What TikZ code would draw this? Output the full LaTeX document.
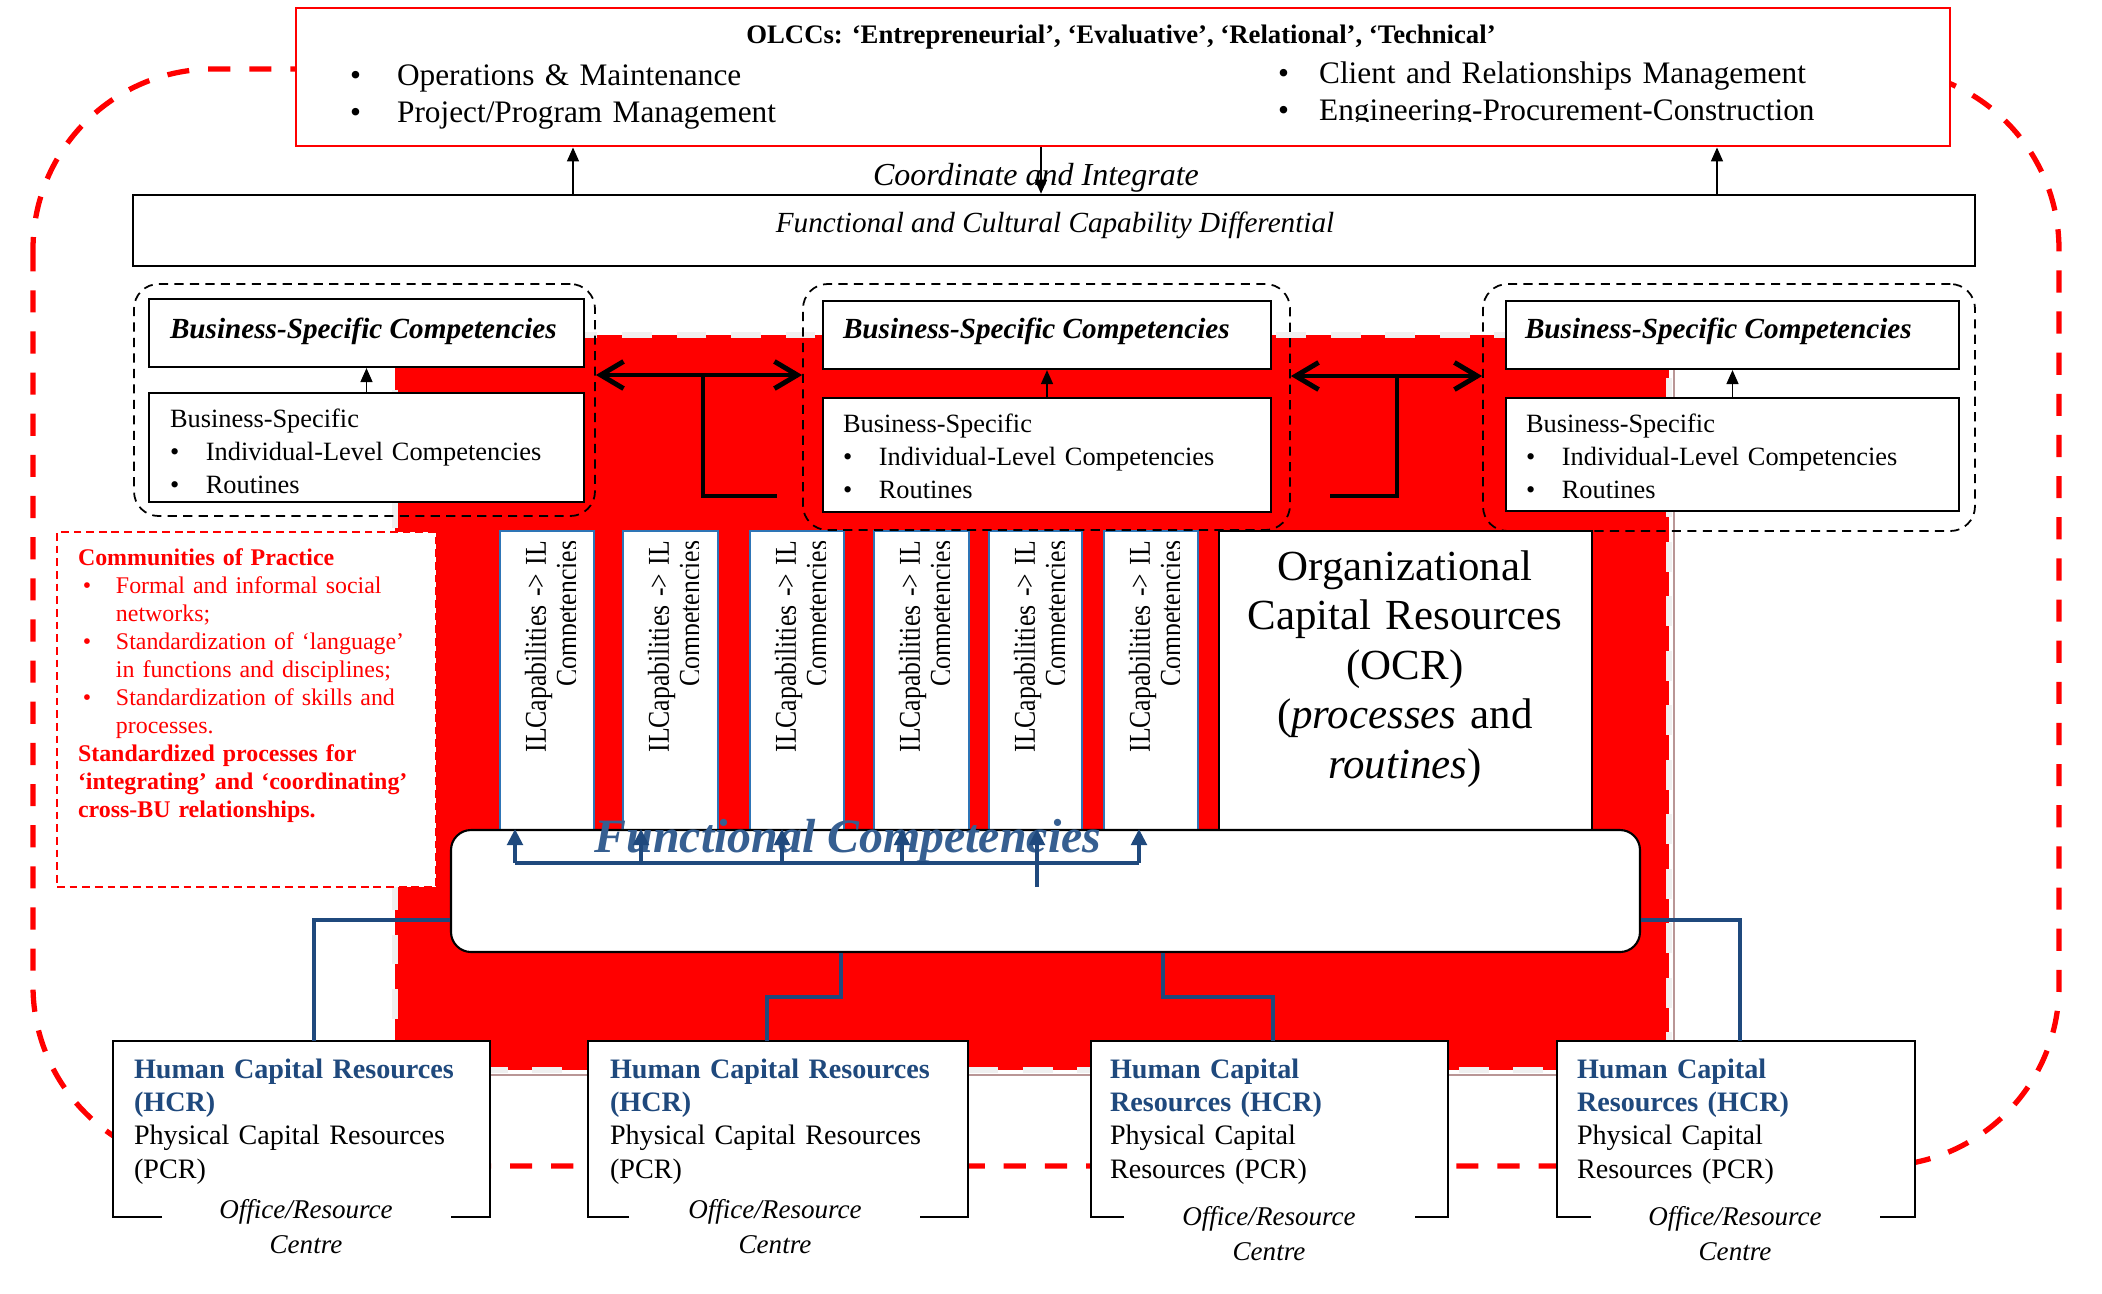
\documentclass[tikz,border=0pt]{standalone}
\usepackage{fontspec}
\setmainfont{Liberation Serif}
\usetikzlibrary{arrows.meta,calc,fit}
\definecolor{hblue}{RGB}{31,73,125}
\definecolor{fblue}{RGB}{54,95,145}
\definecolor{lblue}{RGB}{46,117,182}
\definecolor{rosy}{RGB}{185,150,150}
\definecolor{pale}{RGB}{240,240,240}
\newcommand\fsz[2]{\fontsize{#1pt}{#2pt}\selectfont}
\begin{document}
\begin{tikzpicture}[x=0.01cm,y=-0.01cm,
  txt/.style={inner sep=0pt,outer sep=0pt},
  wbox/.style={draw=black,line width=0.6pt,fill=white,inner sep=0pt},
  ilbox/.style={draw=lblue,line width=0.6pt,fill=white,inner sep=0pt},
  ctbox/.style={draw=black,line width=0.5pt,dash pattern=on 2.6pt off 1.8pt,rounded corners=7pt,inner sep=0pt},
  arr/.style={line width=0.5pt,-{Triangle[length=4pt,width=3.4pt]}},
  thickarr/.style={line width=1.4pt,{Straight Barb[length=6.5pt,width=7.7pt]}-{Straight Barb[length=6.5pt,width=7.7pt]}},
  tbar/.style={line width=1.4pt},
  bluel/.style={draw=hblue,line width=1.1pt},
  bluearr/.style={draw=hblue,fill=hblue,line width=1.1pt,-{Triangle[length=4.6pt,width=4.4pt]}},
  bigdash/.style={red,line width=1.5pt,dash pattern=on 6.3pt off 5.4pt,rounded corners=1.8cm},
  copbox/.style={draw=red,line width=0.6pt,dash pattern=on 2.2pt off 1.4pt,fill=white,inner sep=0pt},
  hcrout/.style={line width=0.7pt},
]
\useasboundingbox (0,0) rectangle (2102,1293);

% big red dashed rounded frame
\draw[bigdash] (33,69) rectangle (2059,1166);

% red field
\fill[red] (395,335) rectangle (1669,1070);
\draw[pale,line width=1.6pt,dash pattern=on 8.5pt off 7pt] (395,335) rectangle (1669,1070);
\draw[rosy,line width=0.7pt] (396,1075) -- (1674,1075) -- (1674,336);

% top box
\node[wbox,draw=red,line width=0.8pt,fit={(296,8) (1950,146)}] (top) {};
\node[txt,anchor=base,font=\bfseries\fsz{7.6}{9}] (olcct) at (1121,43) {OLCCs: ‘Entrepreneurial’, ‘Evaluative’, ‘Relational’, ‘Technical’};
\node[txt,anchor=base west,text width=6cm,align=left,font=\fsz{8.9}{10.8}] (olccl) at (350,85)
  {\makebox[13.4pt][l]{\textbullet}Operations \& Maintenance\\\makebox[13.4pt][l]{\textbullet}Project/Program Management};
\begin{scope}
\clip (1260,50) rectangle (1945,121);
\node[txt,anchor=base west,text width=7cm,align=left,font=\fsz{8.9}{10.8}] (olccr) at (1278,83)
  {\makebox[11.7pt][l]{\textbullet}Client and Relationships Management\\\makebox[11.7pt][l]{\textbullet}Engineering-Procurement-Construction};
\end{scope}

% differential box
\node[wbox,line width=0.7pt,fit={(133,195) (1975,266)}] (diff) {};
\node[txt,anchor=base,font=\itshape\fsz{8.3}{10}] (difft) at (1055,232) {Functional and Cultural Capability Differential};
\node[txt,anchor=base,font=\itshape\fsz{9.1}{11}] (coord) at (1036,185) {Coordinate and Integrate};
\coordinate (a1) at (573,0);
\coordinate (a2) at (1041,0);
\coordinate (a3) at (1717,0);
\draw[arr] (diff.north -| a1) -- (top.south -| a1);
\draw[arr] (top.south -| a2) -- (diff.north -| a2);
\draw[arr] (diff.north -| a3) -- (top.south -| a3);

% communities of practice
\node[copbox,fit={(57,532) (436,887)}] (cop) {};
\node[txt,anchor=base west,text width=3.6cm,align=left,text=red,font=\fsz{6.8}{7.97}] (copt) at (78,565)
  {\textbf{Communities of Practice}\\
   \hspace*{1.4pt}\makebox[9.4pt][l]{\textbullet}Formal and informal social\\
   \hspace*{10.8pt}networks;\\
   \hspace*{1.4pt}\makebox[9.4pt][l]{\textbullet}Standardization of ‘language’\\
   \hspace*{10.8pt}in functions and disciplines;\\
   \hspace*{1.4pt}\makebox[9.4pt][l]{\textbullet}Standardization of skills and\\
   \hspace*{10.8pt}processes.\\
   \textbf{Standardized processes for}\\
   \textbf{‘integrating’ and ‘coordinating’}\\
   \textbf{cross-BU relationships.}};

% IL capability boxes
\foreach \i/\xa/\xb in {1/500/594,2/623/718,3/750/844,4/874/969,5/989/1082,6/1104/1198}{
  \node[ilbox,fit={(\xa,531) (\xb,830)}] (il\i) {};
  \begin{scope}
    \clip (\xa,531) rectangle (\xa+75,830);
    \node[txt,rotate=90,xscale=0.85,anchor=north east,text width=72pt,align=right,font=\fsz{8.6}{8.8}] (ilt\i) at (\xa+25,541)
      {ILCapabilities -> IL\\Competencies};
  \end{scope}
}

% OCR box
\node[wbox,fit={(1219,531) (1592,830)}] (ocr) {};
\node[txt,anchor=base,text width=3.6cm,align=center,font=\fsz{12.2}{14.1}] (ocrt) at (1405,580)
  {Organizational\\Capital Resources\\(OCR)\\(\textit{processes} and\\\textit{routines})};

% business-specific containers
\node[wbox,fit={(149,299) (584,367)}] (t1) {};
\node[wbox,fit={(823,301) (1271,369)}] (t2) {};
\node[wbox,fit={(1506,301) (1959,369)}] (t3) {};
\node[wbox,fit={(149,393) (584,502)}] (c1) {};
\node[wbox,fit={(823,398) (1271,512)}] (c2) {};
\node[wbox,fit={(1506,398) (1959,511)}] (c3) {};
\node[ctbox,fit={(134,284) (595,516)}] (ct1) {};
\node[ctbox,fit={(803,284) (1290,530)}] (ct2) {};
\node[ctbox,fit={(1483,284) (1975,531)}] (ct3) {};
\foreach \n/\x in {1/170,2/843,3/1525}{
  \node[txt,anchor=base west,font=\bfseries\itshape\fsz{8.3}{10}] (tt\n) at (\x,338) {Business-Specific Competencies};
  \draw[arr] (c\n.north) -- (t\n.south);
}
\foreach \n/\x/\y in {1/170/427,2/843/432,3/1526/432}{
  \node[txt,anchor=base west,text width=4cm,align=left,font=\fsz{7.5}{9.4}] (ct\n t) at (\x,\y)
    {Business-Specific\\\makebox[10.2pt][l]{\textbullet}Individual-Level Competencies\\\makebox[10.2pt][l]{\textbullet}Routines};
}

% thick black links
\coordinate (ty1) at (0,375);
\coordinate (ty2) at (0,376);
\draw[thickarr] (ct1.east |- ty1) -- (ct2.west |- ty1);
\draw[thickarr] (ct2.east |- ty2) -- (ct3.west |- ty2);
\draw[tbar] (703,375) -- (703,496) -- (777,496);
\draw[tbar] (1397,376) -- (1397,496) -- (1330,496);

% functional competencies
\node[wbox,rounded corners=5.7pt,fit={(451,830) (1640,952)}] (fun) {};
\node[txt,anchor=base,text=fblue,font=\bfseries\itshape\fsz{13.6}{16}] (funt) at (848,852) {Functional Competencies};
\foreach \i/\x in {1/515,2/641,3/782,4/902,5/1037,6/1139}{
  \coordinate (fb\i) at (\x,863);
  \draw[bluearr] (fb\i) -- (fb\i |- fun.north);
}
\draw[bluel] (fb1) -- (fb6);
\coordinate (fsrc) at (1037,887);
\draw[bluel] (fsrc) -- (fb5);

% HCR boxes
\node[txt,fill=white,fit={(113,1041) (490,1217)}] (h1) {};
\node[txt,fill=white,fit={(588,1041) (968,1217)}] (h2) {};
\node[txt,fill=white,fit={(1091,1041) (1448,1217)}] (h3) {};
\node[txt,fill=white,fit={(1557,1041) (1915,1217)}] (h4) {};
\draw[hcrout] (162,1217) -- (113,1217) -- (113,1041) -- (490,1041) -- (490,1217) -- (451,1217);
\draw[hcrout] (629,1217) -- (588,1217) -- (588,1041) -- (968,1041) -- (968,1217) -- (920,1217);
\draw[hcrout] (1124,1217) -- (1091,1217) -- (1091,1041) -- (1448,1041) -- (1448,1217) -- (1415,1217);
\draw[hcrout] (1591,1217) -- (1557,1217) -- (1557,1041) -- (1915,1041) -- (1915,1217) -- (1880,1217);

\node[txt,anchor=base west,text width=3.6cm,align=left,font=\fsz{8}{9.5}] (h1t) at (134,1078)
  {{\color{hblue}\bfseries Human Capital Resources\\(HCR)}\\Physical Capital Resources\\(PCR)};
\node[txt,anchor=base west,text width=3.6cm,align=left,font=\fsz{8}{9.5}] (h2t) at (610,1078)
  {{\color{hblue}\bfseries Human Capital Resources\\(HCR)}\\Physical Capital Resources\\(PCR)};
\node[txt,anchor=base west,text width=3.6cm,align=left,font=\fsz{8}{9.5}] (h3t) at (1110,1078)
  {{\color{hblue}\bfseries Human Capital\\Resources (HCR)}\\Physical Capital\\Resources (PCR)};
\node[txt,anchor=base west,text width=3.6cm,align=left,font=\fsz{8}{9.5}] (h4t) at (1577,1078)
  {{\color{hblue}\bfseries Human Capital\\Resources (HCR)}\\Physical Capital\\Resources (PCR)};
\node[txt,anchor=base,text width=3cm,align=center,font=\itshape\fsz{7.7}{10}] (o1) at (306,1218) {Office/Resource\\Centre};
\node[txt,anchor=base,text width=3cm,align=center,font=\itshape\fsz{7.7}{10}] (o2) at (775,1218) {Office/Resource\\Centre};
\node[txt,anchor=base,text width=3cm,align=center,font=\itshape\fsz{7.7}{10}] (o3) at (1269,1225) {Office/Resource\\Centre};
\node[txt,anchor=base,text width=3cm,align=center,font=\itshape\fsz{7.7}{10}] (o4) at (1735,1225) {Office/Resource\\Centre};

% blue connectors to HCR
\coordinate (hx1) at (314,920);
\coordinate (hx2a) at (841,0);
\coordinate (hx2b) at (767,0);
\coordinate (hx3a) at (1163,0);
\coordinate (hx3b) at (1273,0);
\coordinate (hx4) at (1740,920);
\draw[bluel] (fun.west |- hx1) -| (h1.north -| hx1);
\draw[bluel] (fun.south -| hx2a) -- ++(0,44) -| (h2.north -| hx2b);
\draw[bluel] (fun.south -| hx3a) -- ++(0,44) -| (h3.north -| hx3b);
\draw[bluel] (fun.east |- hx4) -| (h4.north -| hx4);
\end{tikzpicture}
\end{document}
